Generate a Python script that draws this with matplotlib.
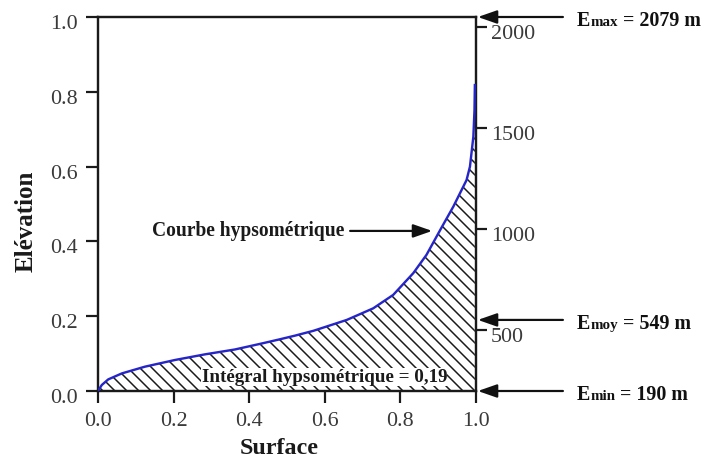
import matplotlib.pyplot as plt
from matplotlib.offsetbox import TextArea, HPacker, AnnotationBbox
from matplotlib.transforms import ScaledTranslation

# hypsometric curve (relative surface / relative elevation)
surface = [0.0, 0.01, 0.027, 0.063, 0.124, 0.204, 0.283, 0.362, 0.433, 0.48,
           0.521, 0.57, 0.658, 0.728, 0.781, 0.834, 0.869, 0.905, 0.94, 0.975,
           0.984, 0.993, 0.996, 0.997]
elevation = [0.0, 0.016, 0.031, 0.047, 0.065, 0.083, 0.098, 0.111, 0.127, 0.138,
             0.148, 0.161, 0.19, 0.221, 0.257, 0.315, 0.364, 0.43, 0.493, 0.564,
             0.6, 0.68, 0.751, 0.818]

rel_ticks = [0.0, 0.2, 0.4, 0.6, 0.8, 1.0]
alt_ticks = [500, 1000, 1500, 2000]
alt_range = (200, 2050)          # right axis as drawn
e_min, e_moy, e_max = 190, 549, 2079
integral = "0,19"

SERIF = ["Liberation Serif", "DejaVu Serif"]
plt.rcParams["font.family"] = SERIF
plt.rcParams["hatch.linewidth"] = 1.5
plt.rcParams["hatch.color"] = "#1a1a1a"

DPI = 72
fig = plt.figure(figsize=(712 / DPI, 462 / DPI), dpi=DPI)
ax = fig.add_axes([98 / 712, 71 / 462, 378 / 712, 374 / 462])

ax.fill_between(surface, elevation, 0, facecolor="none", edgecolor="#1a1a1a",
                linewidth=0, hatch="\\\\")
ax.plot(surface, elevation, color="#2626c8", lw=2.4, zorder=3)

ax.set_xlim(0, 1)
ax.set_ylim(0, 1)
ax.set_xticks(rel_ticks, [f"{v:.1f}" for v in rel_ticks])
ax.set_yticks(rel_ticks, [f"{v:.1f}" for v in rel_ticks])
ax.tick_params(direction="out", length=12, width=2.2, labelsize=22,
               labelcolor="#3a3a3a", pad=8, color="#1a1a1a")
ax.tick_params(axis="x", pad=9)
for s in ax.spines.values():
    s.set_linewidth(2.4)
    s.set_color("#1a1a1a")

ax2 = ax.twinx()
ax2.set_ylim(*alt_range)
ax2.set_yticks(alt_ticks, [str(v) for v in alt_ticks])
ax2.tick_params(direction="out", length=11, width=2.2, labelsize=22,
                labelcolor="#3a3a3a", pad=4, color="#1a1a1a")
for s in ax2.spines.values():
    s.set_visible(False)

# tick labels sit a little below their ticks in the original
shift = ScaledTranslation(0, -5 / 72, fig.dpi_scale_trans)
for lab in ax.get_yticklabels() + ax2.get_yticklabels():
    lab.set_transform(lab.get_transform() + shift)

ax.set_xlabel("Surface", fontsize=24, fontweight="bold", color="#1a1a1a")
ax.xaxis.set_label_coords(0.479, -0.155)
ax.xaxis.label.set_va("center")
ax.set_ylabel("Elévation", fontsize=25, fontweight="bold", color="#1a1a1a")
ax.yaxis.set_label_coords(-0.19, 0.455)
ax.yaxis.label.set_va("center")

arrow = dict(arrowstyle="-|>,head_length=0.8,head_width=0.28", lw=2.2,
             color="#111111", shrinkA=0, shrinkB=0, mutation_scale=20)

ax.annotate("", xy=(0.884, 0.428), xytext=(0.667, 0.428), arrowprops=arrow)
ax.text(0.653, 0.414, "Courbe hypsométrique", ha="right", va="baseline",
        fontsize=19.5, fontweight="bold", color="#1a1a1a")
ax.text(0.274, 0.025, f"Intégral hypsométrique = {integral}", ha="left",
        va="baseline", fontsize=19, fontweight="bold", color="#1a1a1a",
        zorder=4, bbox=dict(facecolor="white", edgecolor="none", pad=0.3))

big = dict(fontsize=20, fontweight="bold", color="#111111", family=SERIF)
small = dict(big, fontsize=15)
for sub, val in [("max", e_max), ("moy", e_moy), ("min", e_min)]:
    rel = (val - e_min) / (e_max - e_min)
    ax.annotate("", xy=(1.005, rel), xytext=(1.23, rel), arrowprops=arrow,
                annotation_clip=False)
    box = HPacker(children=[TextArea("E", textprops=big),
                            TextArea(sub, textprops=small),
                            TextArea(f" = {val} m", textprops=big)],
                  align="baseline", pad=0, sep=0)
    ab = AnnotationBbox(box, (1.0, rel), xycoords=("axes fraction", "data"),
                        xybox=(101, -4), boxcoords="offset points",
                        box_alignment=(0, 0.5), frameon=False,
                        annotation_clip=False)
    ax.add_artist(ab)

fig.savefig("out.png", dpi=DPI)
